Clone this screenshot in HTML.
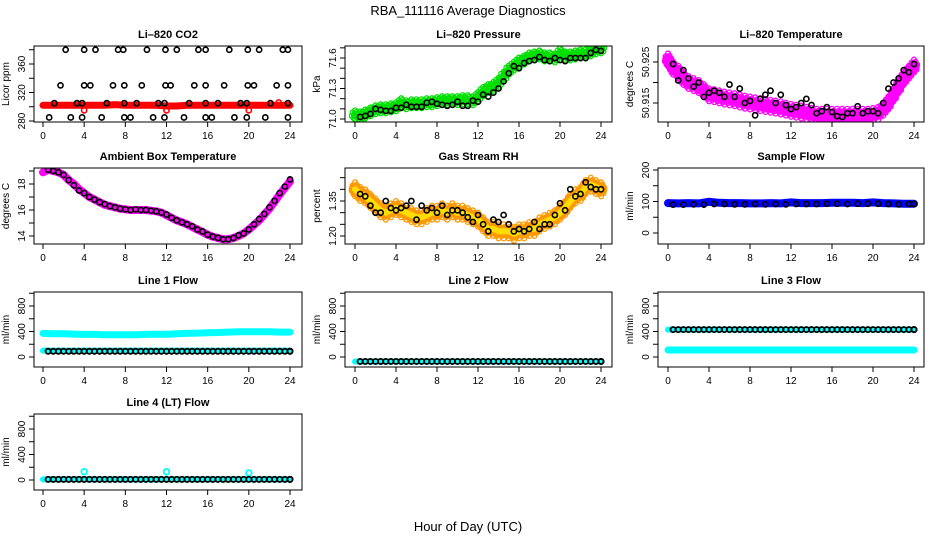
<!DOCTYPE html>
<html><head><meta charset="utf-8"><style>
html,body{margin:0;padding:0;background:#fff}
svg{display:block;font-family:"Liberation Sans",sans-serif}
.t{font-weight:bold;font-size:11px}
.tk{font-size:10px}
</style></head><body>
<svg id="c" width="936" height="540" viewBox="0 0 936 540">
<text x="468" y="15" text-anchor="middle" font-size="13">RBA_111116  Average Diagnostics</text>
<text x="468" y="531" text-anchor="middle" font-size="13">Hour of Day (UTC)</text>
</svg>
<script>
// ---- data ----
const hoursHalf = [0,0.5,1,1.5,2,2.5,3,3.5,4,4.5,5,5.5,6,6.5,7,7.5,8,8.5,9,9.5,10,10.5,11,11.5,12,12.5,13,13.5,14,14.5,15,15.5,16,16.5,17,17.5,18,18.5,19,19.5,20,20.5,21,21.5,22,22.5,23,23.5,24];
const hoursHourly = [0,1,2,3,4,5,6,7,8,9,10,11,12,13,14,15,16,17,18,19,20,21,22,23,24];
const xTicks = [0,4,8,12,16,20,24];

// CO2
const co2Red = [302,302,302,302,302,302,302,303,302,302,302,302,301,301,302,302,302,302,302,302,302,302,302,302,302];
const co2BlackHours = [2.2,4,5.1,7.3,7.8,10.1,11.9,13,15.1,15.8,18.1,19.9,21,23.3,23.8, 1.7,4,4.6,6.8,7.9,9.6,11.9,12.4,14.7,15.8,17.6,19.9,20.5,22.7,23.8, 1.1,3.3,3.8,6.2,7.9,9.1,11.2,11.8,14.2,15.8,17,19.2,19.8,22.1,23.8, 0.6,2.7,3.8,5.7,7.9,8.5,10.7,11.8,13.7,15.8,16.4,18.6,19.8,21.6,23.8];
const co2BlackValues = [380,380,380,380,380,380,380,380,380,380,380,380,380,380,380, 330,330,330,330,330,330,330,330,330,330,330,330,330,330,330, 305,305,305,305,305,305,305,305,305,305,305,305,305,305,305, 285,285,285,285,285,285,285,285,285,285,285,285,285,285,285];
const co2OutHours = [4,12,20,22.9];
const co2OutValues = [295,295,295,306];

// Pressure
const presCloud = [71.04,71.03,71.05,71.07,71.09,71.10,71.10,71.11,71.12,71.16,71.14,71.15,71.15,71.15,71.16,71.16,71.17,71.18,71.18,71.18,71.18,71.19,71.19,71.18,71.22,71.27,71.30,71.32,71.36,71.42,71.48,71.52,71.56,71.58,71.61,71.62,71.63,71.61,71.61,71.60,71.65,71.62,71.62,71.63,71.64,71.64,71.66,71.68,71.69];
const presBlack = [71.02,71.03,71.05,71.10,71.09,71.08,71.08,71.11,71.11,71.14,71.12,71.12,71.12,71.16,71.17,71.15,71.14,71.13,71.14,71.17,71.13,71.13,71.18,71.17,71.24,71.22,71.26,71.30,71.37,71.45,71.52,71.50,71.55,71.57,71.58,71.61,71.58,71.57,71.60,71.58,71.57,71.60,71.60,71.60,71.60,71.65,71.68,71.67];

// Li-820 temperature
const tempCloud = [50.9255,50.9235,50.9225,50.921,50.920,50.9195,50.919,50.918,50.917,50.9168,50.9165,50.9162,50.916,50.9158,50.9155,50.9152,50.915,50.9148,50.9146,50.9144,50.9142,50.914,50.9138,50.9135,50.9132,50.913,50.9128,50.9125,50.9122,50.912,50.912,50.912,50.912,50.912,50.912,50.912,50.912,50.912,50.912,50.912,50.9122,50.9125,50.9135,50.915,50.917,50.919,50.921,50.9225,50.924];
const tempBlack = [50.9245,50.9205,50.923,50.921,50.919,50.920,50.9165,50.9175,50.918,50.9175,50.9165,50.9195,50.9165,50.9185,50.915,50.9155,50.912,50.9160,50.917,50.9180,50.915,50.9170,50.9145,50.9135,50.914,50.9150,50.916,50.9145,50.9125,50.9130,50.9140,50.9128,50.9118,50.9116,50.9125,50.9125,50.9142,50.9125,50.9130,50.9130,50.9125,50.9150,50.9185,50.9200,50.9210,50.9230,50.9225,50.9245];

// Ambient
const ambCloud = [18.9,19.1,19.0,18.9,18.7,18.3,18.0,17.6,17.3,17.0,16.8,16.6,16.4,16.3,16.2,16.1,16.05,16.0,16.0,16.0,16.0,15.95,15.9,15.8,15.6,15.4,15.2,15.05,14.9,14.7,14.5,14.3,14.1,13.95,13.85,13.75,13.75,13.85,14.0,14.2,14.5,14.85,15.2,15.65,16.1,16.65,17.2,17.7,18.2];
const ambBlack = [19.1,19.0,18.9,18.7,18.3,17.9,17.5,17.3,17.0,16.8,16.6,16.45,16.3,16.2,16.1,16.05,16.0,16.05,16.0,16.0,15.95,15.9,15.8,15.65,15.4,15.2,15.05,14.9,14.75,14.5,14.35,14.1,13.95,13.85,13.75,13.75,13.85,14.05,14.2,14.5,14.9,15.3,15.7,16.2,16.7,17.3,17.8,18.35];

// Gas stream RH
const rhCloud = [1.40,1.38,1.37,1.35,1.33,1.31,1.30,1.31,1.32,1.31,1.30,1.29,1.28,1.28,1.29,1.30,1.30,1.31,1.30,1.31,1.30,1.30,1.29,1.28,1.27,1.25,1.23,1.23,1.22,1.22,1.22,1.21,1.22,1.22,1.23,1.23,1.25,1.26,1.27,1.28,1.30,1.32,1.35,1.37,1.38,1.41,1.42,1.41,1.40];
const rhBlack = [1.38,1.37,1.33,1.30,1.30,1.35,1.32,1.31,1.32,1.33,1.35,1.27,1.33,1.31,1.32,1.30,1.33,1.29,1.31,1.31,1.30,1.28,1.26,1.29,1.25,1.22,1.27,1.26,1.29,1.25,1.22,1.23,1.22,1.23,1.26,1.23,1.25,1.25,1.29,1.34,1.31,1.40,1.37,1.38,1.43,1.41,1.40,1.40];

// Sample flow
const sampleBlue = [95,94,95,94,99,96,95,95,94,94,95,94,97,95,95,95,96,96,96,95,97,95,94,93,93];
const sampleBlack = [90,90,91,90,92,92,91,91,92,91,92,91,92,92,92,93,93,92,93,93,93,92,91,92,92];

// Line flows
const l1CyanHigh = [370,365,365,360,355,355,350,350,350,350,355,360,355,365,370,375,380,385,390,395,395,395,395,390,390];
const l1CyanLow = [100,100,100,100,100,100,100,100,100,100,100,100,100,100,100,100,100,100,100,100,100,100,100,100,100];
const l1Black = [90,90,90,90,90,90,90,90,90,90,90,90,90,90,90,90,90,90,90,90,90,90,90,90,90];
const l2Cyan = [-70,-70,-70,-70,-70,-70,-70,-70,-70,-70,-70,-70,-70,-70,-70,-70,-70,-70,-70,-70,-70,-70,-70,-70,-70];
const l2Black = [-70,-70,-70,-70,-70,-70,-70,-70,-70,-70,-70,-70,-70,-70,-70,-70,-70,-70,-70,-70,-70,-70,-70,-70,-70];
const l3CyanHigh = [430,430,430,430,430,430,430,430,430,430,430,430,430,430,430,430,430,430,430,430,430,430,430,430,430];
const l3CyanLow = [110,110,110,110,110,110,110,110,110,110,110,110,110,110,110,110,110,110,110,110,110,110,110,110,110];
const l3Black = [430,430,430,430,430,430,430,430,430,430,430,430,430,430,430,430,430,430,430,430,430,430,430,430,430];
const l4Cyan = [10,10,10,10,10,10,10,10,10,10,10,10,10,10,10,10,10,10,10,10,10,10,10,10,10];
const l4Black = [10,10,10,10,10,10,10,10,10,10,10,10,10,10,10,10,10,10,10,10,10,10,10,10,10];
const l4OutHours = [4,12,20];
const l4OutValues = [130,130,110];

// ---- rendering ----
const svg = document.getElementById('c');
const NS = 'http://www.w3.org/2000/svg';
function mk(tag, attrs, parent){ const e=document.createElementNS(NS,tag); for(const k in attrs) e.setAttribute(k,attrs[k]); (parent||svg).appendChild(e); return e; }

const cols = [{l:34,r:302,x0:43,x24:290},{l:345,r:612,x0:355,x24:601},{l:658,r:924,x0:668,x24:914}];
const rows = [{t:46,b:122},{t:168,b:244},{t:292,b:367},{t:414,b:490}];

function panel(name, title, col, row, ylab, yref, yticks, ylabels, yfmt){
  const C=cols[col], R=rows[row];
  const g = mk('g',{});
  
  
  const xs = h => C.x0 + (C.x24-C.x0)*h/24;
  const ys = v => yref[1] + (yref[3]-yref[1])*(v-yref[0])/(yref[2]-yref[0]);
  const clip = mk('clipPath',{id:'cp-'+name}, g);
  mk('rect',{x:C.l,y:R.t,width:C.r-C.l,height:R.b-R.t},clip);
  const plot = mk('g',{'clip-path':'url(#cp-'+name+')'}, g);
  
  
  const fr = mk('rect',{x:C.l,y:R.t,width:C.r-C.l,height:R.b-R.t,fill:'none',stroke:'#000','stroke-width':1}, g);
  
  
  const tt = mk('text',{x:(C.l+C.r)/2,y:R.t-8,'text-anchor':'middle',class:'t'}, g);
  tt.textContent = title;
  
  
  mk('line',{x1:xs(0),x2:xs(24),y1:R.b,y2:R.b,stroke:'#000'}, g);
  xTicks.forEach(h=>{
    mk('line',{x1:xs(h),x2:xs(h),y1:R.b,y2:R.b+5,stroke:'#000'}, g);
    const t = mk('text',{x:xs(h),y:R.b+17,'text-anchor':'middle',class:'tk'}, g);
    t.textContent = h;
    
    
  });
  mk('line',{x1:C.l,x2:C.l,y1:ys(yticks[0]),y2:ys(yticks[yticks.length-1]),stroke:'#000'}, g);
  yticks.forEach(v=>{
    const y = ys(v);
    mk('line',{x1:C.l-5,x2:C.l,y1:y,y2:y,stroke:'#000'}, g);
  });
  ylabels.forEach(v=>{
    const y = ys(v), x = C.l-9;
    const t = mk('text',{x:x,y:y,'text-anchor':'middle',class:'tk',transform:'rotate(-90 '+x+' '+y+')'}, g);
    t.textContent = yfmt ? yfmt(v) : v;
    
    
  });
  const yx = C.l-25, yy=(R.t+R.b)/2;
  const yt = mk('text',{x:yx,y:yy,'text-anchor':'middle',class:'tk',transform:'rotate(-90 '+yx+' '+yy+')'}, g);
  yt.textContent = ylab;
  
  
  return {plot, xs, ys, name};
}

function circles(P, hrs, vals, color, sw, r, label){
  const g = mk('g',{}, P.plot);
  
  
  hrs.forEach((h,i)=>{
    mk('circle',{cx:P.xs(h),cy:P.ys(vals[i]),r:r||2.4,fill:'none',stroke:color,'stroke-width':sw||1.4}, g);
  });
}
const cluster = [[0,0],[-3,-5],[3,5],[2,-6],[-2,6],[-4,2],[4,-2],[0,-9],[0,9]];
function cloud(P, hrs, vals, color, spread, label){
  const g = mk('g',{}, P.plot);
  
  
  const pts = hrs.map((h,i)=>P.xs(h).toFixed(1)+','+P.ys(vals[i]).toFixed(1)).join(' ');
  mk('polyline',{points:pts,fill:'none',stroke:color,'stroke-width':spread*0.9,'stroke-linejoin':'round','stroke-linecap':'round'}, g);
  hrs.forEach((h,i)=>{
    cluster.forEach(o=>{
      mk('circle',{cx:P.xs(h)+o[0]*0.8,cy:P.ys(vals[i])+o[1]*spread/18,r:2.4,fill:'none',stroke:color,'stroke-width':1.3}, g);
    });
  });
}
function band(P, hrs, vals, color, w, label){
  const g = mk('g',{}, P.plot);
  
  
  const pts = hrs.map((h,i)=>P.xs(h).toFixed(1)+','+P.ys(vals[i]).toFixed(1)).join(' ');
  mk('polyline',{points:pts,fill:'none',stroke:color,'stroke-width':w,'stroke-linecap':'round'}, g);
}
const blackHours = hoursHalf.slice(1);
const hourMid = hoursHourly.slice(1).map(h=>h-0.5).concat([24]);

let P = panel('co2','Li\u2013820 CO2',0,0,'Licor ppm',[280,121,360,64],[280,300,320,340,360,380],[280,320,360]);
band(P, hoursHourly, co2Red, '#ff0000', 7, 'red-series');
circles(P, co2OutHours, co2OutValues, '#ff0000', 1.6, 2.6, 'red-outliers');
circles(P, co2BlackHours, co2BlackValues, '#000', 1.6, 2.6, 'black-points');

P = panel('pressure','Li\u2013820 Pressure',1,0,'kPa',[71.0,119,71.6,58],[71.0,71.1,71.2,71.3,71.4,71.5,71.6,71.7],[71.0,71.3,71.6],v=>v.toFixed(1));
cloud(P, hoursHalf, presCloud, '#00e000', 9, 'green-cloud');
circles(P, blackHours, presBlack, '#000', 1.6, 2.6, 'black-points');

P = panel('li820-temp','Li\u2013820 Temperature',2,0,'degrees C',[50.915,103,50.925,62],[50.915,50.92,50.925],[50.915,50.925],v=>v.toFixed(3));
cloud(P, hoursHalf, tempCloud, '#ff00ff', 13, 'magenta-cloud');
circles(P, blackHours, tempBlack, '#000', 1.6, 2.6, 'black-points');

P = panel('ambient','Ambient Box Temperature',0,1,'degrees C',[14,236,18,184],[14,15,16,17,18,19],[14,16,18]);
band(P, hoursHalf, ambCloud, '#ff00ff', 8, 'magenta-band');
circles(P, blackHours, ambBlack, '#000', 1.6, 2.6, 'black-points');

P = panel('rh','Gas Stream RH',1,1,'percent',[1.20,236,1.35,201],[1.20,1.25,1.30,1.35,1.40,1.45],[1.20,1.35],v=>v.toFixed(2));
cloud(P, hoursHalf, rhCloud, '#ff9900', 14, 'orange-cloud');
band(P, hoursHalf, rhCloud, '#ffdd00', 6, 'yellow-core');
circles(P, blackHours, rhBlack, '#000', 1.6, 2.6, 'black-points');

P = panel('sample-flow','Sample Flow',2,1,'ml/min',[0,233,200,170],[0,50,100,150,200],[0,100,200]);
band(P, hoursHourly, sampleBlue, '#0000ff', 8, 'blue-band');
circles(P, hourMid, sampleBlack, '#000', 1.6, 2.6, 'black-points');

const lf = [0,200,400,600,800,1000], ll=[0,400,800];
P = panel('line1-flow','Line 1 Flow',0,2,'ml/min',[0,357,800,306],lf,ll);
band(P, hoursHourly, l1CyanHigh, '#00ffff', 7, 'cyan-high');
band(P, hoursHourly, l1CyanLow, '#00ffff', 6, 'cyan-low');
circles(P, hourMid, l1Black, '#000', 1.8, 2.6, 'black-points');
circles(P, hoursHourly.slice(1), l1Black, '#000', 1.8, 2.6, 'black-points-2');

P = panel('line2-flow','Line 2 Flow',1,2,'ml/min',[0,357,800,306],lf,ll);
band(P, hoursHourly, l2Cyan, '#00ffff', 6, 'cyan-series');
circles(P, hourMid, l2Black, '#000', 1.8, 2.6, 'black-points');
circles(P, hoursHourly.slice(1), l2Black, '#000', 1.8, 2.6, 'black-points-2');

P = panel('line3-flow','Line 3 Flow',2,2,'ml/min',[0,357,800,306],lf,ll);
band(P, hoursHourly, l3CyanHigh, '#00ffff', 6, 'cyan-high');
band(P, hoursHourly, l3CyanLow, '#00ffff', 7, 'cyan-low');
circles(P, hourMid, l3Black, '#000', 1.8, 2.6, 'black-points');
circles(P, hoursHourly.slice(1), l3Black, '#000', 1.8, 2.6, 'black-points-2');

P = panel('line4-flow','Line 4 (LT) Flow',0,3,'ml/min',[0,480,800,429],lf,ll);
band(P, hoursHourly, l4Cyan, '#00ffff', 6, 'cyan-series');
circles(P, l4OutHours, l4OutValues, '#00ffff', 1.8, 2.8, 'cyan-outliers');
circles(P, hourMid, l4Black, '#000', 1.8, 2.6, 'black-points');
circles(P, hoursHourly.slice(1), l4Black, '#000', 1.8, 2.6, 'black-points-2');
</script>
</body></html>
